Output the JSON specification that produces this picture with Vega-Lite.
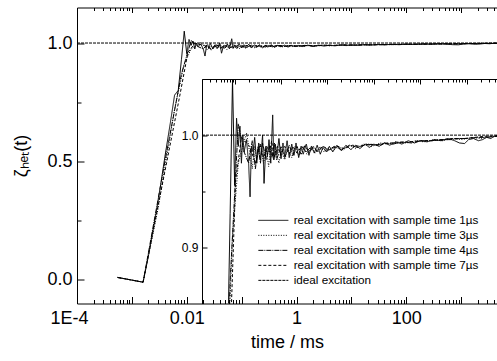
{
  "$schema": "https://vega.github.io/schema/vega-lite/v6.json",
  "width": 420,
  "height": 296,
  "autosize": "none",
  "padding": {"left": 77, "top": 7.5, "right": 0, "bottom": 57.5},
  "config": {
    "view": {"stroke": null},
    "axis": {"grid": false, "domainColor": "black", "tickColor": "black", "labelColor": "black", "titleColor": "black", "labelFont": "Liberation Sans", "titleFont": "Liberation Sans", "titleFontWeight": "normal", "tickWidth": 1, "domainWidth": 1}
  },
  "data": {"values": [
    {"s": "ideal excitation", "t": 0.0001, "v": 1.0},
    {"s": "ideal excitation", "t": 0.00198, "v": 1.0},
    {"s": "ideal excitation", "t": 4500, "v": 1.0},

    {"s": "real excitation with sample time 1µs", "t": 0.00055, "v": 0.01},
    {"s": "real excitation with sample time 1µs", "t": 0.0016, "v": -0.01},
    {"s": "real excitation with sample time 1µs", "t": 0.002, "v": 0.10},
    {"s": "real excitation with sample time 1µs", "t": 0.003, "v": 0.33},
    {"s": "real excitation with sample time 1µs", "t": 0.004, "v": 0.52},
    {"s": "real excitation with sample time 1µs", "t": 0.005, "v": 0.66},
    {"s": "real excitation with sample time 1µs", "t": 0.006, "v": 0.78},
    {"s": "real excitation with sample time 1µs", "t": 0.007, "v": 0.80},
    {"s": "real excitation with sample time 1µs", "t": 0.008, "v": 0.93},
    {"s": "real excitation with sample time 1µs", "t": 0.009, "v": 1.05},
    {"s": "real excitation with sample time 1µs", "t": 0.010, "v": 0.955},
    {"s": "real excitation with sample time 1µs", "t": 0.011, "v": 1.015},
    {"s": "real excitation with sample time 1µs", "t": 0.012, "v": 0.990},
    {"s": "real excitation with sample time 1µs", "t": 0.013, "v": 1.008},
    {"s": "real excitation with sample time 1µs", "t": 0.014, "v": 0.975},
    {"s": "real excitation with sample time 1µs", "t": 0.015, "v": 1.000},
    {"s": "real excitation with sample time 1µs", "t": 0.016, "v": 0.985},
    {"s": "real excitation with sample time 1µs", "t": 0.018, "v": 0.996},
    {"s": "real excitation with sample time 1µs", "t": 0.020, "v": 0.975},
    {"s": "real excitation with sample time 1µs", "t": 0.0215, "v": 0.945},
    {"s": "real excitation with sample time 1µs", "t": 0.023, "v": 0.990},
    {"s": "real excitation with sample time 1µs", "t": 0.025, "v": 0.985},
    {"s": "real excitation with sample time 1µs", "t": 0.027, "v": 0.998},
    {"s": "real excitation with sample time 1µs", "t": 0.030, "v": 0.975},
    {"s": "real excitation with sample time 1µs", "t": 0.033, "v": 0.993},
    {"s": "real excitation with sample time 1µs", "t": 0.036, "v": 0.978},
    {"s": "real excitation with sample time 1µs", "t": 0.040, "v": 1.000},
    {"s": "real excitation with sample time 1µs", "t": 0.043, "v": 0.957},
    {"s": "real excitation with sample time 1µs", "t": 0.047, "v": 0.990},
    {"s": "real excitation with sample time 1µs", "t": 0.051, "v": 0.982},
    {"s": "real excitation with sample time 1µs", "t": 0.055, "v": 0.996},
    {"s": "real excitation with sample time 1µs", "t": 0.060, "v": 0.975},
    {"s": "real excitation with sample time 1µs", "t": 0.066, "v": 1.018},
    {"s": "real excitation with sample time 1µs", "t": 0.070, "v": 0.978},
    {"s": "real excitation with sample time 1µs", "t": 0.075, "v": 0.992},
    {"s": "real excitation with sample time 1µs", "t": 0.082, "v": 0.983},
    {"s": "real excitation with sample time 1µs", "t": 0.090, "v": 0.997},
    {"s": "real excitation with sample time 1µs", "t": 0.100, "v": 0.979},
    {"s": "real excitation with sample time 1µs", "t": 0.11, "v": 0.993},
    {"s": "real excitation with sample time 1µs", "t": 0.12, "v": 0.981},
    {"s": "real excitation with sample time 1µs", "t": 0.135, "v": 0.995},
    {"s": "real excitation with sample time 1µs", "t": 0.15, "v": 0.980},
    {"s": "real excitation with sample time 1µs", "t": 0.17, "v": 0.992},
    {"s": "real excitation with sample time 1µs", "t": 0.19, "v": 0.982},
    {"s": "real excitation with sample time 1µs", "t": 0.21, "v": 0.993},
    {"s": "real excitation with sample time 1µs", "t": 0.24, "v": 0.980},
    {"s": "real excitation with sample time 1µs", "t": 0.27, "v": 0.990},
    {"s": "real excitation with sample time 1µs", "t": 0.30, "v": 0.983},
    {"s": "real excitation with sample time 1µs", "t": 0.35, "v": 0.992},
    {"s": "real excitation with sample time 1µs", "t": 0.40, "v": 0.982},
    {"s": "real excitation with sample time 1µs", "t": 0.45, "v": 0.990},
    {"s": "real excitation with sample time 1µs", "t": 0.52, "v": 0.984},
    {"s": "real excitation with sample time 1µs", "t": 0.6, "v": 0.991},
    {"s": "real excitation with sample time 1µs", "t": 0.7, "v": 0.983},
    {"s": "real excitation with sample time 1µs", "t": 0.8, "v": 0.989},
    {"s": "real excitation with sample time 1µs", "t": 0.95, "v": 0.985},
    {"s": "real excitation with sample time 1µs", "t": 1.1, "v": 0.990},
    {"s": "real excitation with sample time 1µs", "t": 1.3, "v": 0.985},
    {"s": "real excitation with sample time 1µs", "t": 1.6, "v": 0.991},
    {"s": "real excitation with sample time 1µs", "t": 2.0, "v": 0.986},
    {"s": "real excitation with sample time 1µs", "t": 2.5, "v": 0.991},
    {"s": "real excitation with sample time 1µs", "t": 3.2, "v": 0.987},
    {"s": "real excitation with sample time 1µs", "t": 4, "v": 0.991},
    {"s": "real excitation with sample time 1µs", "t": 5, "v": 0.988},
    {"s": "real excitation with sample time 1µs", "t": 6.5, "v": 0.992},
    {"s": "real excitation with sample time 1µs", "t": 8, "v": 0.989},
    {"s": "real excitation with sample time 1µs", "t": 10, "v": 0.992},
    {"s": "real excitation with sample time 1µs", "t": 13, "v": 0.990},
    {"s": "real excitation with sample time 1µs", "t": 17, "v": 0.993},
    {"s": "real excitation with sample time 1µs", "t": 22, "v": 0.991},
    {"s": "real excitation with sample time 1µs", "t": 30, "v": 0.994},
    {"s": "real excitation with sample time 1µs", "t": 40, "v": 0.992},
    {"s": "real excitation with sample time 1µs", "t": 55, "v": 0.995},
    {"s": "real excitation with sample time 1µs", "t": 75, "v": 0.993},
    {"s": "real excitation with sample time 1µs", "t": 100, "v": 0.995},
    {"s": "real excitation with sample time 1µs", "t": 140, "v": 0.994},
    {"s": "real excitation with sample time 1µs", "t": 200, "v": 0.996},
    {"s": "real excitation with sample time 1µs", "t": 280, "v": 0.995},
    {"s": "real excitation with sample time 1µs", "t": 400, "v": 0.997},
    {"s": "real excitation with sample time 1µs", "t": 550, "v": 0.995},
    {"s": "real excitation with sample time 1µs", "t": 700, "v": 0.993},
    {"s": "real excitation with sample time 1µs", "t": 900, "v": 0.9925},
    {"s": "real excitation with sample time 1µs", "t": 1100, "v": 0.996},
    {"s": "real excitation with sample time 1µs", "t": 1400, "v": 0.997},
    {"s": "real excitation with sample time 1µs", "t": 1800, "v": 0.995},
    {"s": "real excitation with sample time 1µs", "t": 2200, "v": 0.996},
    {"s": "real excitation with sample time 1µs", "t": 2700, "v": 0.998},
    {"s": "real excitation with sample time 1µs", "t": 3300, "v": 0.997},
    {"s": "real excitation with sample time 1µs", "t": 4000, "v": 0.999},
    {"s": "real excitation with sample time 1µs", "t": 4600, "v": 1.000},

    {"s": "real excitation with sample time 3µs", "t": 0.00055, "v": 0.01},
    {"s": "real excitation with sample time 3µs", "t": 0.0016, "v": -0.01},
    {"s": "real excitation with sample time 3µs", "t": 0.003, "v": 0.30},
    {"s": "real excitation with sample time 3µs", "t": 0.006, "v": 0.72},
    {"s": "real excitation with sample time 3µs", "t": 0.009, "v": 0.91},
    {"s": "real excitation with sample time 3µs", "t": 0.012, "v": 0.975},
    {"s": "real excitation with sample time 3µs", "t": 0.015, "v": 0.990},
    {"s": "real excitation with sample time 3µs", "t": 0.018, "v": 1.002},
    {"s": "real excitation with sample time 3µs", "t": 0.021, "v": 0.985},
    {"s": "real excitation with sample time 3µs", "t": 0.024, "v": 0.970},
    {"s": "real excitation with sample time 3µs", "t": 0.027, "v": 0.990},
    {"s": "real excitation with sample time 3µs", "t": 0.030, "v": 0.978},
    {"s": "real excitation with sample time 3µs", "t": 0.036, "v": 0.992},
    {"s": "real excitation with sample time 3µs", "t": 0.042, "v": 0.975},
    {"s": "real excitation with sample time 3µs", "t": 0.048, "v": 0.988},
    {"s": "real excitation with sample time 3µs", "t": 0.054, "v": 0.972},
    {"s": "real excitation with sample time 3µs", "t": 0.060, "v": 0.990},
    {"s": "real excitation with sample time 3µs", "t": 0.069, "v": 0.978},
    {"s": "real excitation with sample time 3µs", "t": 0.078, "v": 0.985},
    {"s": "real excitation with sample time 3µs", "t": 0.09, "v": 0.975},
    {"s": "real excitation with sample time 3µs", "t": 0.1, "v": 0.986},
    {"s": "real excitation with sample time 3µs", "t": 0.12, "v": 0.978},
    {"s": "real excitation with sample time 3µs", "t": 0.14, "v": 0.988},
    {"s": "real excitation with sample time 3µs", "t": 0.17, "v": 0.980},
    {"s": "real excitation with sample time 3µs", "t": 0.2, "v": 0.990},
    {"s": "real excitation with sample time 3µs", "t": 0.24, "v": 0.982},
    {"s": "real excitation with sample time 3µs", "t": 0.3, "v": 0.990},
    {"s": "real excitation with sample time 3µs", "t": 0.36, "v": 0.983},
    {"s": "real excitation with sample time 3µs", "t": 0.45, "v": 0.989},
    {"s": "real excitation with sample time 3µs", "t": 0.55, "v": 0.984},
    {"s": "real excitation with sample time 3µs", "t": 0.7, "v": 0.990},
    {"s": "real excitation with sample time 3µs", "t": 0.85, "v": 0.985},
    {"s": "real excitation with sample time 3µs", "t": 1.0, "v": 0.989},
    {"s": "real excitation with sample time 3µs", "t": 1.3, "v": 0.986},
    {"s": "real excitation with sample time 3µs", "t": 1.7, "v": 0.990},
    {"s": "real excitation with sample time 3µs", "t": 2.2, "v": 0.987},
    {"s": "real excitation with sample time 3µs", "t": 3, "v": 0.991},
    {"s": "real excitation with sample time 3µs", "t": 4, "v": 0.988},
    {"s": "real excitation with sample time 3µs", "t": 6, "v": 0.992},
    {"s": "real excitation with sample time 3µs", "t": 9, "v": 0.990},
    {"s": "real excitation with sample time 3µs", "t": 14, "v": 0.993},
    {"s": "real excitation with sample time 3µs", "t": 20, "v": 0.992},
    {"s": "real excitation with sample time 3µs", "t": 30, "v": 0.994},
    {"s": "real excitation with sample time 3µs", "t": 50, "v": 0.993},
    {"s": "real excitation with sample time 3µs", "t": 80, "v": 0.995},
    {"s": "real excitation with sample time 3µs", "t": 120, "v": 0.994},
    {"s": "real excitation with sample time 3µs", "t": 200, "v": 0.996},
    {"s": "real excitation with sample time 3µs", "t": 300, "v": 0.995},
    {"s": "real excitation with sample time 3µs", "t": 500, "v": 0.997},
    {"s": "real excitation with sample time 3µs", "t": 800, "v": 0.996},
    {"s": "real excitation with sample time 3µs", "t": 1300, "v": 0.998},
    {"s": "real excitation with sample time 3µs", "t": 2000, "v": 0.997},
    {"s": "real excitation with sample time 3µs", "t": 3000, "v": 0.999},
    {"s": "real excitation with sample time 3µs", "t": 4600, "v": 0.999},

    {"s": "real excitation with sample time 4µs", "t": 0.00055, "v": 0.01},
    {"s": "real excitation with sample time 4µs", "t": 0.0016, "v": -0.01},
    {"s": "real excitation with sample time 4µs", "t": 0.004, "v": 0.50},
    {"s": "real excitation with sample time 4µs", "t": 0.008, "v": 0.87},
    {"s": "real excitation with sample time 4µs", "t": 0.012, "v": 1.010},
    {"s": "real excitation with sample time 4µs", "t": 0.016, "v": 0.985},
    {"s": "real excitation with sample time 4µs", "t": 0.020, "v": 0.975},
    {"s": "real excitation with sample time 4µs", "t": 0.024, "v": 0.995},
    {"s": "real excitation with sample time 4µs", "t": 0.028, "v": 0.970},
    {"s": "real excitation with sample time 4µs", "t": 0.032, "v": 0.990},
    {"s": "real excitation with sample time 4µs", "t": 0.036, "v": 0.975},
    {"s": "real excitation with sample time 4µs", "t": 0.040, "v": 0.993},
    {"s": "real excitation with sample time 4µs", "t": 0.048, "v": 0.978},
    {"s": "real excitation with sample time 4µs", "t": 0.056, "v": 0.990},
    {"s": "real excitation with sample time 4µs", "t": 0.064, "v": 0.980},
    {"s": "real excitation with sample time 4µs", "t": 0.072, "v": 0.993},
    {"s": "real excitation with sample time 4µs", "t": 0.080, "v": 0.978},
    {"s": "real excitation with sample time 4µs", "t": 0.1, "v": 0.990},
    {"s": "real excitation with sample time 4µs", "t": 0.12, "v": 0.980},
    {"s": "real excitation with sample time 4µs", "t": 0.15, "v": 0.991},
    {"s": "real excitation with sample time 4µs", "t": 0.18, "v": 0.982},
    {"s": "real excitation with sample time 4µs", "t": 0.22, "v": 0.990},
    {"s": "real excitation with sample time 4µs", "t": 0.27, "v": 0.983},
    {"s": "real excitation with sample time 4µs", "t": 0.33, "v": 0.991},
    {"s": "real excitation with sample time 4µs", "t": 0.4, "v": 0.984},
    {"s": "real excitation with sample time 4µs", "t": 0.5, "v": 0.990},
    {"s": "real excitation with sample time 4µs", "t": 0.62, "v": 0.985},
    {"s": "real excitation with sample time 4µs", "t": 0.8, "v": 0.990},
    {"s": "real excitation with sample time 4µs", "t": 1, "v": 0.986},
    {"s": "real excitation with sample time 4µs", "t": 1.4, "v": 0.990},
    {"s": "real excitation with sample time 4µs", "t": 2, "v": 0.987},
    {"s": "real excitation with sample time 4µs", "t": 3, "v": 0.991},
    {"s": "real excitation with sample time 4µs", "t": 4.5, "v": 0.989},
    {"s": "real excitation with sample time 4µs", "t": 7, "v": 0.992},
    {"s": "real excitation with sample time 4µs", "t": 11, "v": 0.991},
    {"s": "real excitation with sample time 4µs", "t": 17, "v": 0.993},
    {"s": "real excitation with sample time 4µs", "t": 26, "v": 0.992},
    {"s": "real excitation with sample time 4µs", "t": 40, "v": 0.994},
    {"s": "real excitation with sample time 4µs", "t": 65, "v": 0.993},
    {"s": "real excitation with sample time 4µs", "t": 100, "v": 0.995},
    {"s": "real excitation with sample time 4µs", "t": 170, "v": 0.995},
    {"s": "real excitation with sample time 4µs", "t": 280, "v": 0.996},
    {"s": "real excitation with sample time 4µs", "t": 450, "v": 0.996},
    {"s": "real excitation with sample time 4µs", "t": 700, "v": 0.997},
    {"s": "real excitation with sample time 4µs", "t": 1100, "v": 0.997},
    {"s": "real excitation with sample time 4µs", "t": 1700, "v": 0.998},
    {"s": "real excitation with sample time 4µs", "t": 2600, "v": 0.998},
    {"s": "real excitation with sample time 4µs", "t": 4600, "v": 0.999},

    {"s": "real excitation with sample time 7µs", "t": 0.00055, "v": 0.01},
    {"s": "real excitation with sample time 7µs", "t": 0.0016, "v": -0.01},
    {"s": "real excitation with sample time 7µs", "t": 0.0075, "v": 0.78},
    {"s": "real excitation with sample time 7µs", "t": 0.0105, "v": 0.96},
    {"s": "real excitation with sample time 7µs", "t": 0.014, "v": 0.998},
    {"s": "real excitation with sample time 7µs", "t": 0.021, "v": 0.990},
    {"s": "real excitation with sample time 7µs", "t": 0.028, "v": 0.975},
    {"s": "real excitation with sample time 7µs", "t": 0.035, "v": 0.992},
    {"s": "real excitation with sample time 7µs", "t": 0.042, "v": 0.980},
    {"s": "real excitation with sample time 7µs", "t": 0.049, "v": 0.990},
    {"s": "real excitation with sample time 7µs", "t": 0.056, "v": 0.985},
    {"s": "real excitation with sample time 7µs", "t": 0.063, "v": 0.995},
    {"s": "real excitation with sample time 7µs", "t": 0.070, "v": 0.980},
    {"s": "real excitation with sample time 7µs", "t": 0.084, "v": 0.990},
    {"s": "real excitation with sample time 7µs", "t": 0.098, "v": 0.982},
    {"s": "real excitation with sample time 7µs", "t": 0.12, "v": 0.990},
    {"s": "real excitation with sample time 7µs", "t": 0.15, "v": 0.983},
    {"s": "real excitation with sample time 7µs", "t": 0.18, "v": 0.990},
    {"s": "real excitation with sample time 7µs", "t": 0.22, "v": 0.984},
    {"s": "real excitation with sample time 7µs", "t": 0.28, "v": 0.990},
    {"s": "real excitation with sample time 7µs", "t": 0.35, "v": 0.985},
    {"s": "real excitation with sample time 7µs", "t": 0.45, "v": 0.990},
    {"s": "real excitation with sample time 7µs", "t": 0.6, "v": 0.986},
    {"s": "real excitation with sample time 7µs", "t": 0.8, "v": 0.990},
    {"s": "real excitation with sample time 7µs", "t": 1.1, "v": 0.987},
    {"s": "real excitation with sample time 7µs", "t": 1.6, "v": 0.990},
    {"s": "real excitation with sample time 7µs", "t": 2.3, "v": 0.988},
    {"s": "real excitation with sample time 7µs", "t": 3.5, "v": 0.991},
    {"s": "real excitation with sample time 7µs", "t": 5, "v": 0.990},
    {"s": "real excitation with sample time 7µs", "t": 8, "v": 0.992},
    {"s": "real excitation with sample time 7µs", "t": 13, "v": 0.991},
    {"s": "real excitation with sample time 7µs", "t": 20, "v": 0.993},
    {"s": "real excitation with sample time 7µs", "t": 35, "v": 0.993},
    {"s": "real excitation with sample time 7µs", "t": 60, "v": 0.994},
    {"s": "real excitation with sample time 7µs", "t": 100, "v": 0.995},
    {"s": "real excitation with sample time 7µs", "t": 180, "v": 0.995},
    {"s": "real excitation with sample time 7µs", "t": 300, "v": 0.996},
    {"s": "real excitation with sample time 7µs", "t": 500, "v": 0.997},
    {"s": "real excitation with sample time 7µs", "t": 900, "v": 0.997},
    {"s": "real excitation with sample time 7µs", "t": 1500, "v": 0.998},
    {"s": "real excitation with sample time 7µs", "t": 2500, "v": 0.999},
    {"s": "real excitation with sample time 7µs", "t": 4600, "v": 0.999}
  ]},
  "resolve": {"scale": {"x": "independent", "y": "independent"}, "axis": {"x": "independent", "y": "independent"}},
  "layer": [
    {
      "mark": {"type": "line", "clip": true, "color": "black", "strokeWidth": 1},
      "encoding": {
        "x": {"field": "t", "type": "quantitative",
          "scale": {"type": "log", "domain": [0.0001, 4500]},
          "axis": {"orient": "bottom", "title": "time / ms", "titleFontSize": 18, "titlePadding": 3,
            "values": [0.0001,0.0002,0.0003,0.0004,0.0005,0.0006,0.0007,0.0008,0.0009,0.001,0.002,0.003,0.004,0.005,0.006,0.007,0.008,0.009,0.01,0.02,0.03,0.04,0.05,0.06,0.07,0.08,0.09,0.1,0.2,0.3,0.4,0.5,0.6,0.7,0.8,0.9,1,2,3,4,5,6,7,8,9,10,20,30,40,50,60,70,80,90,100,200,300,400,500,600,700,800,900,1000,2000,3000,4000],
            "labelExpr": "datum.value == 0.0001 ? '1E-4' : datum.value == 0.01 ? '0.01' : datum.value == 1 ? '1' : datum.value == 100 ? '100' : ''",
            "labelFontSize": 18, "labelPadding": 13, "labelOverlap": false, "labelFlush": false, "labelBound": false,
            "tickSize": {"condition": {"test": "abs(log(datum.value)/LN10 - round(log(datum.value)/LN10)) < 0.001", "value": -7}, "value": -4},
            "labelOffset": {"condition": {"test": "datum.value < 0.0002", "value": -8}, "value": 0}
          }},
        "y": {"field": "v", "type": "quantitative",
          "scale": {"domain": [-0.1, 1.15], "zero": false, "nice": false},
          "axis": {"orient": "left", "title": "ζₕₑₜ(t)", "titleFontSize": 18, "titlePadding": 16,
            "values": [0, 0.25, 0.5, 0.75, 1.0],
            "labelExpr": "datum.value == 0 ? '0.0' : datum.value == 0.5 ? '0.5' : datum.value == 1 ? '1.0' : ''",
            "labelFontSize": 18, "labelPadding": 12, "labelOverlap": false, "labelFlush": false, "labelBound": false,
            "tickSize": {"condition": {"test": "datum.value == 0 || datum.value == 0.5 || datum.value == 1", "value": -7}, "value": -4}
          }},
        "strokeDash": {"field": "s", "type": "nominal",
          "scale": {"domain": ["real excitation with sample time 1µs", "real excitation with sample time 3µs", "real excitation with sample time 4µs", "real excitation with sample time 7µs", "ideal excitation"],
                    "range": [[1, 0], [1, 1.5], [5, 1, 1, 1], [3, 2], [3, 1]]},
          "legend": {"orient": "none", "legendX": 190.5, "legendY": 207, "title": null, "symbolType": "M-3,0L3,0", "symbolSize": 100, "symbolStrokeWidth": 1, "symbolStrokeColor": "black", "labelFont": "Liberation Sans", "labelFontSize": 11.7, "labelColor": "black", "rowPadding": 2, "labelLimit": 400, "labelOffset": 14.5}
        }
      }
    },
    {
      "transform": [{"filter": "datum.s == 'ideal excitation'"}],
      "mark": {"type": "line", "clip": true, "opacity": 0},
      "encoding": {
        "x": {"field": "t", "type": "quantitative",
          "scale": {"type": "log", "domain": [0.0001, 4500]},
          "axis": {"orient": "top", "title": null, "labels": false,
            "values": [0.0002,0.0003,0.0004,0.0005,0.0006,0.0007,0.0008,0.0009,0.001,0.002,0.003,0.004,0.005,0.006,0.007,0.008,0.009,0.01,0.02,0.03,0.04,0.05,0.06,0.07,0.08,0.09,0.1,0.2,0.3,0.4,0.5,0.6,0.7,0.8,0.9,1,2,3,4,5,6,7,8,9,10,20,30,40,50,60,70,80,90,100,200,300,400,500,600,700,800,900,1000,2000,3000,4000],
            "tickSize": {"condition": {"test": "abs(log(datum.value)/LN10 - round(log(datum.value)/LN10)) < 0.001", "value": -5}, "value": -3}
          }},
        "y": {"field": "v", "type": "quantitative", "scale": {"domain": [-0.1, 1.15], "zero": false, "nice": false}, "axis": null}
      }
    },
    {
      "transform": [{"filter": "datum.t >= 0.00198"}],
      "mark": {"type": "line", "clip": true, "color": "black", "strokeWidth": 1},
      "encoding": {
        "x": {"field": "t", "type": "quantitative",
          "scale": {"type": "log", "domain": [0.00198, 4500], "range": [125, 420]},
          "axis": {"orient": "top", "offset": -71.5, "title": null, "labels": false,
            "values": [0.002,0.003,0.004,0.005,0.006,0.007,0.008,0.009,0.01,0.02,0.03,0.04,0.05,0.06,0.07,0.08,0.09,0.1,0.2,0.3,0.4,0.5,0.6,0.7,0.8,0.9,1,2,3,4,5,6,7,8,9,10,20,30,40,50,60,70,80,90,100,200,300,400,500,600,700,800,900,1000,2000,3000,4000],
            "tickSize": {"condition": {"test": "abs(log(datum.value)/LN10 - round(log(datum.value)/LN10)) < 0.001", "value": -5}, "value": -3}
          }},
        "y": {"field": "v", "type": "quantitative",
          "scale": {"domain": [0.85, 1.05], "range": [296, 71.5], "zero": false, "nice": false},
          "axis": {"orient": "left", "offset": -125, "title": null,
            "values": [0.9, 0.95, 1.0],
            "labelExpr": "datum.value == 0.9 ? '0.9' : datum.value == 1 ? '1.0' : ''",
            "labelFontSize": 12, "labelPadding": 9, "labelOverlap": false, "labelFlush": false, "labelBound": false,
            "tickSize": {"condition": {"test": "datum.value == 0.9 || datum.value == 1", "value": -5}, "value": -3}
          }},
        "strokeDash": {"field": "s", "type": "nominal", "legend": null,
          "scale": {"domain": ["real excitation with sample time 1µs", "real excitation with sample time 3µs", "real excitation with sample time 4µs", "real excitation with sample time 7µs", "ideal excitation"],
                    "range": [[1, 0], [1, 1.5], [5, 1, 1, 1], [3, 2], [3, 1]]}}
      }
    }
  ]
}
